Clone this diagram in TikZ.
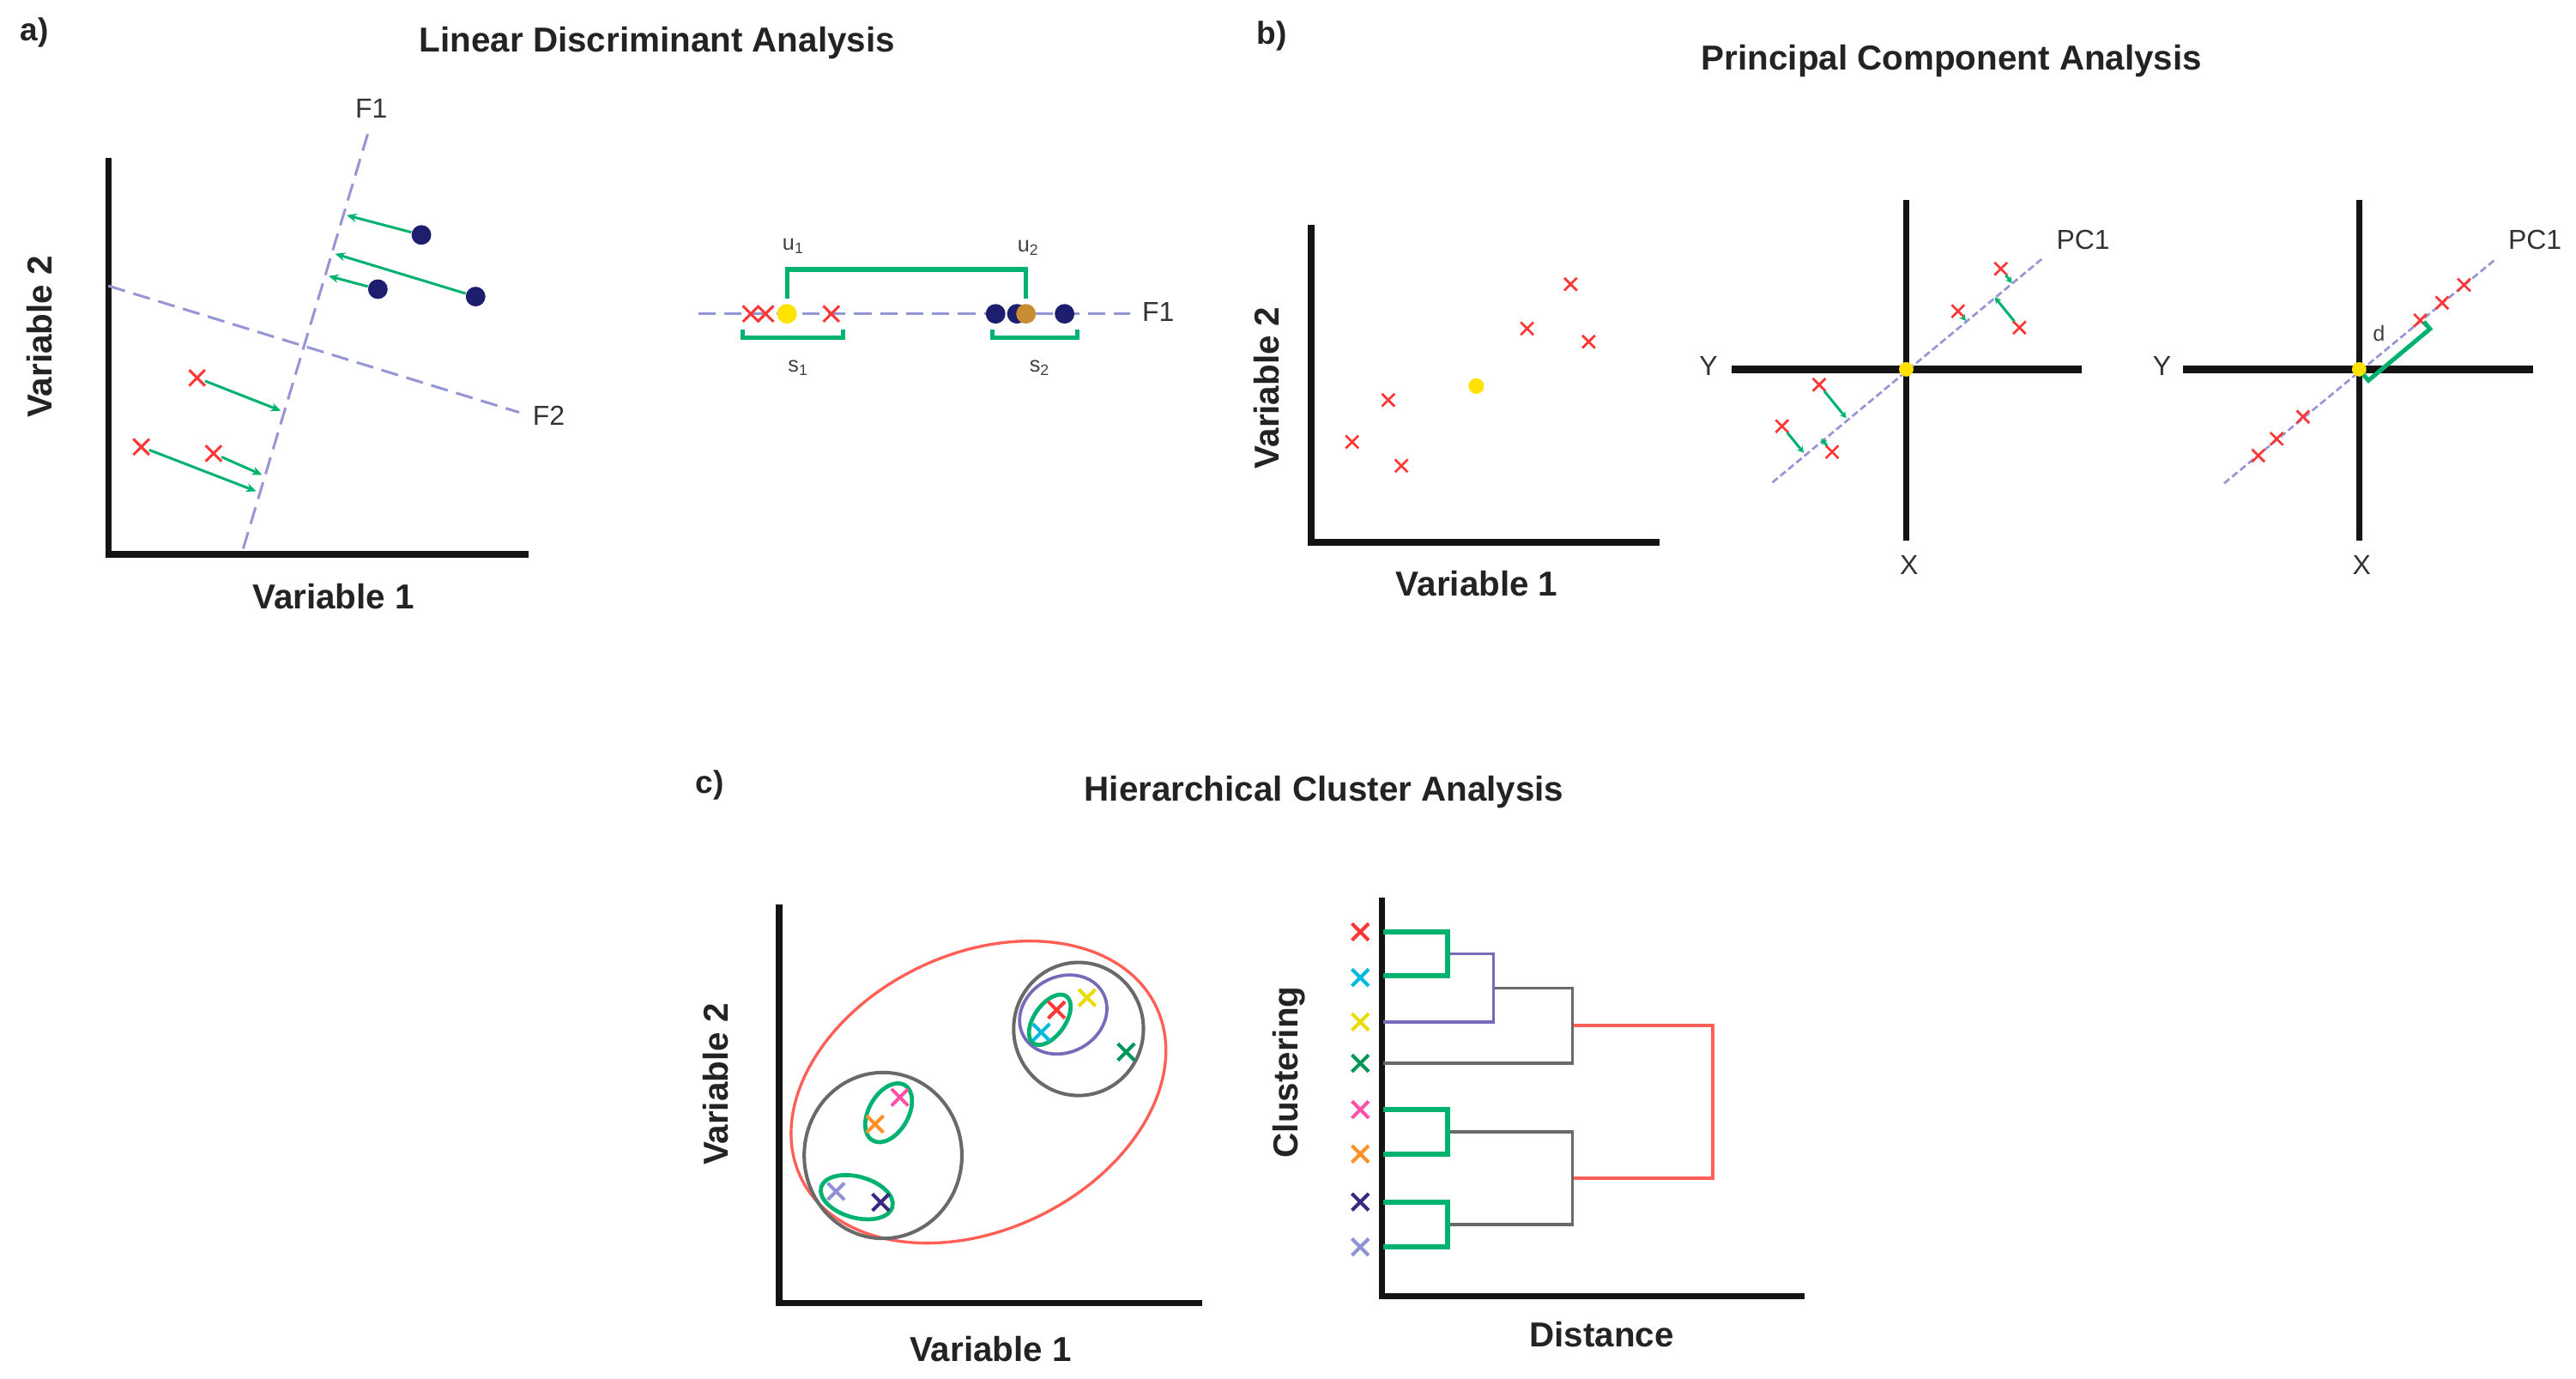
\documentclass[tikz,border=0pt]{standalone}
\usepackage{fontspec}
\setmainfont{Liberation Sans}
\usetikzlibrary{arrows.meta,shapes.misc}
\definecolor{grn}{RGB}{0,178,112}
\definecolor{lav}{RGB}{150,150,215}
\definecolor{navyc}{RGB}{30,30,110}
\definecolor{ylw}{RGB}{255,226,0}
\definecolor{ochre}{RGB}{200,140,50}
\definecolor{xred}{RGB}{255,55,55}
\definecolor{prp}{RGB}{120,105,185}
\definecolor{gry}{RGB}{105,105,105}
\definecolor{salm}{RGB}{255,95,85}
\definecolor{ccyan}{RGB}{0,185,225}
\definecolor{cylw}{RGB}{235,220,0}
\definecolor{cgrn}{RGB}{0,150,90}
\definecolor{cpink}{RGB}{255,80,165}
\definecolor{corange}{RGB}{255,145,40}
\definecolor{cnavy}{RGB}{60,40,130}
\definecolor{clav}{RGB}{145,145,215}
\definecolor{txt}{RGB}{35,35,35}
\begin{document}
\begin{tikzpicture}[x=0.02cm,y=-0.02cm,
  axisline/.style={line width=2.2pt, line join=miter, draw=black!92},
  ttl/.style={font=\bfseries\fontsize{12}{14}\selectfont, text=txt, inner sep=0pt},
  plab/.style={font=\bfseries\fontsize{11}{13}\selectfont, text=txt, inner sep=0pt},
  axlab/.style={font=\bfseries\fontsize{12}{14}\selectfont, text=txt, inner sep=0pt},
  lbl/.style={font=\fontsize{9.5}{11}\selectfont, text=black!80, inner sep=0pt},
  sml/.style={font=\fontsize{7.5}{9}\selectfont, text=black!75, inner sep=0pt},
  dashF/.style={draw=lav, line width=0.9pt, dash pattern=on 6pt off 3pt},
  dashP/.style={draw=lav, line width=0.8pt, dash pattern=on 2.4pt off 1.2pt},
  crs/.style={cross out, draw=#1, line width=0.9pt, minimum size=4.6pt, inner sep=0pt},
  scrs/.style={cross out, draw=#1, line width=0.8pt, minimum size=3.6pt, inner sep=0pt},
  ccrs/.style={cross out, draw=#1, line width=1.2pt, minimum size=4.6pt, inner sep=0pt},
  dotc/.style={circle, fill=#1, inner sep=0pt, minimum size=6.8pt},
  sdot/.style={circle, fill=#1, inner sep=0pt, minimum size=5.4pt},
  garrow/.style={draw=grn, line width=0.9pt, -{Stealth[length=3.5pt,width=3pt]}},
  gproj/.style={draw=grn, line width=0.9pt, -{Stealth[length=2.2pt,width=2.4pt]}},
  gbr/.style={draw=grn, line width=1.5pt, line join=miter},
  gthick/.style={draw=grn, line width=1.5pt, line join=miter},
  dgrn/.style={draw=grn, line width=1.7pt, line join=miter},
  dthin/.style={line width=1pt, line join=miter}
]
\useasboundingbox (0,0) rectangle (1568,839);
\fill[white] (0,0) rectangle (1568,839);

% ---------------- panel labels and titles
\node[plab] (pa) at (21,20) {a)};
\node[plab] (pb) at (774,22) {b)};
\node[plab] (pc) at (432,478) {c)};
\node[ttl] (ta) at (400,26) {Linear Discriminant Analysis};
\node[ttl] (tb) at (1188,37) {Principal Component Analysis};
\node[ttl] (tc) at (806,482) {Hierarchical Cluster Analysis};

% ================= a) LDA scatter
\coordinate (aTop) at (66,96);
\coordinate (aO) at (66,337.5);
\coordinate (aR) at (322,337.5);
\draw[axisline] (aTop) -- (aO) -- (aR);
\node[axlab, rotate=90] (av2) at (24,205) {Variable 2};
\node[axlab] (av1) at (203,363) {Variable 1};

\coordinate (f1s) at (148,334);
\coordinate (f1e) at (224,81);
\draw[dashF] (f1s) -- (f1e);
\node[lbl] (f1l) at (226,66) {F1};
\coordinate (f2s) at (66,174);
\coordinate (f2e) at (316,251);
\draw[dashF] (f2s) -- (f2e);
\node[lbl] (f2l) at (334,253) {F2};

\node[dotc=navyc] (d1) at (256.5,143) {};
\node[dotc=navyc] (d2) at (230,176) {};
\node[dotc=navyc] (d3) at (289.5,180.5) {};
\coordinate (d1p) at (211,131);
\coordinate (d2p) at (200,168);
\coordinate (d3p) at (204,154.5);
\draw[garrow] (d1) -- (d1p);
\draw[garrow] (d2) -- (d2p);
\draw[garrow] (d3) -- (d3p);

\node[crs=xred] (r1) at (120,230) {};
\node[crs=xred] (r2) at (86,272) {};
\node[crs=xred] (r3) at (130,276) {};
\coordinate (r1p) at (171,250);
\coordinate (r2p) at (156,299);
\coordinate (r3p) at (159.5,289);
\draw[garrow] (r1) -- (r1p);
\draw[garrow] (r2) -- (r2p);
\draw[garrow] (r3) -- (r3p);

% ================= a) projected line
\coordinate (lS) at (425,191);
\coordinate (lE) at (688,191);
\draw[dashF] (lS) -- (lE);
\node[lbl] (f1r) at (705,190) {F1};
\node[crs=xred] (q1) at (457,191) {};
\node[crs=xred] (q2) at (466,191) {};
\node[crs=xred] (q3) at (506,191) {};
\node[dotc=ylw] (m1) at (479,191) {};
\node[dotc=navyc] (b1) at (606,191) {};
\node[dotc=navyc] (b2) at (619,191) {};
\node[dotc=navyc] (b3) at (648,191) {};
\node[dotc=ochre] (m2) at (624.5,191) {};
\draw[gbr] (479,182) -- (479,164) -- (624.5,164) -- (624.5,182);
\draw[gbr] (452,200.5) -- (452,205.5) -- (513,205.5) -- (513,200.5);
\draw[gbr] (604,200.5) -- (604,205.5) -- (656,205.5) -- (656,200.5);
\node[sml] (u1) at (483,150) {u\textsubscript{1}};
\node[sml] (u2) at (626,151) {u\textsubscript{2}};
\node[sml] (s1) at (486,224) {s\textsubscript{1}};
\node[sml] (s2) at (633,224) {s\textsubscript{2}};

% ================= b) PCA plot 1
\draw[axisline] (798,137) -- (798,330) -- (1010,330);
\node[axlab, rotate=90] (bv2) at (771,236) {Variable 2};
\node[axlab] (bv1) at (899,355) {Variable 1};
\node[scrs=xred] (e1) at (956,173) {};
\node[scrs=xred] (e2) at (929.5,200) {};
\node[scrs=xred] (e3) at (967,208) {};
\node[scrs=xred] (e4) at (845,243.5) {};
\node[scrs=xred] (e5) at (823,269) {};
\node[scrs=xred] (e6) at (853,283.5) {};
\node[sdot=ylw] (em) at (898.6,235) {};

% ================= b) PCA plot 2
\draw[line width=2pt, draw=black!92] (1160.3,121.5) -- (1160.3,329);
\draw[line width=2.5pt, draw=black!92] (1054,224.8) -- (1267,224.8);
\node[lbl] (y2) at (1040,223) {Y};
\node[lbl] (x2) at (1162,344) {X};
\coordinate (pc2s) at (1078.8,293.7);
\coordinate (pc2e) at (1243,157.5);
\draw[dashP] (pc2s) -- (pc2e);
\node[lbl] (pc2l) at (1268,146) {PC1};
\node[scrs=xred] (g1) at (1217.9,163.6) {};
\node[scrs=xred] (g2) at (1191.8,189.4) {};
\node[scrs=xred] (g3) at (1229.2,199.4) {};
\node[scrs=xred] (g4) at (1107.3,234.2) {};
\node[scrs=xred] (g5) at (1084.7,259.4) {};
\node[scrs=xred] (g6) at (1115.2,275.1) {};
\coordinate (g1p) at (1224.7,172.4);
\coordinate (g2p) at (1196.6,195.3);
\coordinate (g3p) at (1214.2,180.9);
\coordinate (g4p) at (1123.8,254.5);
\coordinate (g5p) at (1097.9,275.6);
\coordinate (g6p) at (1108.5,266.9);
\draw[gproj] (g1) -- (g1p);
\draw[gproj] (g2) -- (g2p);
\draw[gproj] (g3) -- (g3p);
\draw[gproj] (g4) -- (g4p);
\draw[gproj] (g5) -- (g5p);
\draw[gproj] (g6) -- (g6p);
\node[sdot=ylw, minimum size=5pt] (c2) at (1160.3,224.8) {};

% ================= b) PCA plot 3
\draw[line width=2pt, draw=black!92] (1436,121.5) -- (1436,329);
\draw[line width=2.5pt, draw=black!92] (1329,224.8) -- (1542,224.8);
\node[lbl] (y3) at (1316,223) {Y};
\node[lbl] (x3) at (1437.5,344) {X};
\coordinate (pc3s) at (1353.8,294.2);
\coordinate (pc3e) at (1518.5,158.2);
\draw[dashP] (pc3s) -- (pc3e);
\node[lbl] (pc3l) at (1543,146) {PC1};
\node[scrs=xred] (h1) at (1499.8,173.4) {};
\node[scrs=xred] (h2) at (1486.5,184.3) {};
\node[scrs=xred] (h3) at (1473.2,195) {};
\node[scrs=xred] (h4) at (1401.8,253.7) {};
\node[scrs=xred] (h5) at (1385.8,267.1) {};
\node[scrs=xred] (h6) at (1374.6,277.3) {};
\node[sdot=ylw, minimum size=5pt] (c3) at (1436,224.8) {};
\draw[gthick] (1438.5,228) -- (1441.6,231.6) -- (1479.1,200.2) -- (1475.4,195.8);
\node[sml] (dl) at (1448,202.8) {d};

% ================= c) scatter with clusters
\draw[axisline] (474.2,550.3) -- (474.2,793.2) -- (732,793.2);
\node[axlab, rotate=90] (cv2) at (435.5,660) {Variable 2};
\node[axlab] (cv1) at (603,821) {Variable 1};

\draw[draw=salm, line width=1pt, rotate around={25.8:(595.6,664.7)}] (595.6,664.7) ellipse [x radius=120, y radius=84];
\draw[draw=gry, line width=1.2pt] (537.5,703.3) ellipse [x radius=48, y radius=50.5];
\draw[draw=gry, line width=1.2pt] (656.5,626.3) ellipse [x radius=39.5, y radius=40.5];
\draw[draw=prp, line width=1.1pt, rotate around={28:(647.2,617.5)}] (647.2,617.5) ellipse [x radius=27.5, y radius=23];
\draw[draw=grn, line width=1.4pt, rotate around={55:(639,620.7)}] (639,620.7) ellipse [x radius=17.5, y radius=9.5];
\draw[draw=grn, line width=1.4pt, rotate around={60:(540.9,677.3)}] (540.9,677.3) ellipse [x radius=19.5, y radius=12];
\draw[draw=grn, line width=1.4pt, rotate around={-15.5:(521.5,728.7)}] (521.5,728.7) ellipse [x radius=22.5, y radius=12.5];

\node[ccrs=xred] (k1) at (643.1,614.7) {};
\node[ccrs=cylw] (k2) at (661.7,607.3) {};
\node[ccrs=ccyan] (k3) at (633.8,628.3) {};
\node[ccrs=cgrn] (k4) at (685.5,640.3) {};
\node[ccrs=cpink] (k5) at (547.7,667.9) {};
\node[ccrs=corange] (k6) at (532.6,684.2) {};
\node[ccrs=clav] (k7) at (508.9,725.2) {};
\node[ccrs=cnavy] (k8) at (536.1,731.8) {};

% ================= c) dendrogram
\draw[axisline] (841.2,546.3) -- (841.2,788.8) -- (1098.5,788.8);
\node[axlab, rotate=90] (clu) at (784.8,652.6) {Clustering};
\node[axlab] (dist) at (975,812) {Distance};

\node[ccrs=xred] (l1) at (828,567.2) {};
\node[ccrs=ccyan] (l2) at (828,595) {};
\node[ccrs=cylw] (l3) at (828,622) {};
\node[ccrs=cgrn] (l4) at (828,647.2) {};
\node[ccrs=cpink] (l5) at (828,675.4) {};
\node[ccrs=corange] (l6) at (828,702.4) {};
\node[ccrs=cnavy] (l7) at (828,731.6) {};
\node[ccrs=clav] (l8) at (828,759) {};

\draw[dthin, draw=salm] (957,624.2) -- (1042.5,624.2) -- (1042.5,717.2) -- (957,717.2);
\draw[dthin, draw=gry] (909,601.3) -- (957,601.3) -- (957,647.2) -- (842,647.2);
\draw[dthin, draw=gry] (881,688.9) -- (957,688.9) -- (957,745.3) -- (881,745.3);
\draw[dthin, draw=prp] (881,580.6) -- (909,580.6) -- (909,622) -- (842,622);
\draw[dgrn] (842,567.2) -- (881,567.2) -- (881,594) -- (842,594);
\draw[dgrn] (842,675.4) -- (881,675.4) -- (881,702.4) -- (842,702.4);
\draw[dgrn] (842,731.6) -- (881,731.6) -- (881,759) -- (842,759);
\end{tikzpicture}
\end{document}
